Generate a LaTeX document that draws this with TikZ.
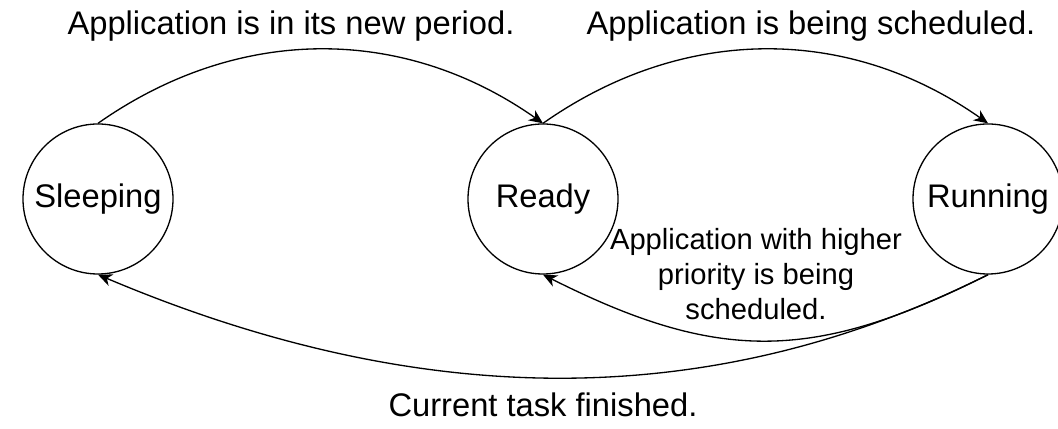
\documentclass[tikz,border=0pt]{standalone}
\usepackage{fontspec}
\setmainfont{Liberation Sans}
\usepackage{tikz}
\usetikzlibrary{arrows.meta, positioning}

\begin{document}
\begin{tikzpicture}[
  state/.style={circle, draw, line width=0.75pt, minimum size=3cm, inner sep=0pt,
                font=\fontsize{18.6}{22}\selectfont},
  trans/.style={-{Stealth[length=8pt, width=7pt, inset=2.5pt]}, line width=0.75pt},
  lbl/.style={font=\fontsize{18.6}{22}\selectfont, inner sep=0pt},
  smalllbl/.style={font=\fontsize{16.6}{19.9}\selectfont, align=center, inner sep=0pt}
]
  \useasboundingbox (-1.96,-4.6) rectangle (19.2,3.98);
  \node[state] (sleep) at (0,0) {Sleeping};
  \node[state] (ready) at (8.9,0) {Ready};
  \node[state] (run) at (17.8,0) {Running};
  \draw[trans] (sleep.north) .. controls +(2.8,1.97) and +(-2.8,1.97) .. (ready.north);
  \draw[trans] (ready.north) .. controls +(2.8,1.97) and +(-2.8,1.97) .. (run.north);
  \draw[trans] (run.south) .. controls +(-3.5,-1.76) and +(3.5,-1.76) .. (ready.south);
  \draw[trans] (run.south) .. controls +(-5.5,-2.75) and +(6.5,-2.75) .. (sleep.south);
  \node[lbl, anchor=base] (newper) at (3.86,3.28) {Application is in its new period.};
  \node[lbl, anchor=base] (sched) at (14.26,3.28) {Application is being scheduled.};
  \node[lbl, anchor=base] (finish) at (8.9,-4.36) {Current task finished.};
  \node[smalllbl] (preempt) at (13.16,-1.5) {Application with higher\\priority is being\\scheduled.};
\end{tikzpicture}
\end{document}
